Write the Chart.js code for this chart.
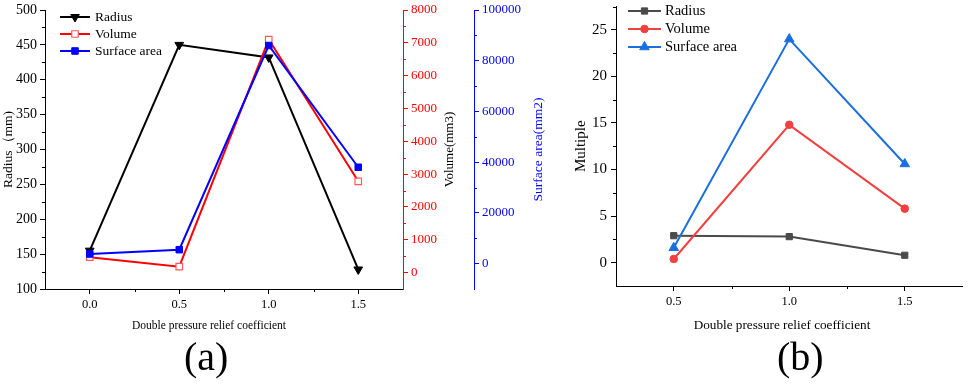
<!DOCTYPE html>
<html><head><meta charset="utf-8">
<script src="https://cdn.jsdelivr.net/npm/chart.js@4.4.1/dist/chart.umd.min.js"></script>
<style>
html,body{margin:0;padding:0;background:#fff;width:969px;height:386px;overflow:hidden;}
#ca{position:absolute;left:0;top:0;width:560px;height:340px;}
#cb{position:absolute;left:560px;top:0;width:409px;height:340px;}
.lab{position:absolute;font-family:"Liberation Serif","Times New Roman",serif;font-size:40px;color:#000;line-height:1;white-space:nowrap;}
</style></head><body>
<canvas id="ca" width="560" height="340"></canvas>
<canvas id="cb" width="409" height="340"></canvas>
<div class="lab" id="la" style="left:184px;top:337px"></div>
<div class="lab" id="lb" style="left:777px;top:337px"></div>
<script>
// ---------- data ----------
const categoriesA = [0.0, 0.5, 1.0, 1.5];
const radiusA  = [155, 450, 432, 128];
const volumeA  = [470, 180, 7100, 2780];
const surfaceA = [3800, 5500, 86000, 38000];

const categoriesB = [0.5, 1.0, 1.5];
const radiusB  = [2.9, 2.8, 0.8];
const volumeB  = [0.4, 14.8, 5.8];
const surfaceB = [1.6, 24.0, 10.6];

const seriesNames = ['Radius', 'Volume', 'Surface area'];
const xTicksA = [0.0, 0.5, 1.0, 1.5];
const xTicksB = [0.5, 1.0, 1.5];
const radiusTicks = [100, 150, 200, 250, 300, 350, 400, 450, 500];
const volumeTicks = [0, 1000, 2000, 3000, 4000, 5000, 6000, 7000, 8000];
const surfaceTicks = [0, 20000, 40000, 60000, 80000, 100000];
const multipleTicks = [0, 5, 10, 15, 20, 25];
const xTitle = 'Double pressure relief coefficient';
const radiusTitle = 'Radius（mm)';
const volumeTitle = 'Volume(mm3)';
const surfaceTitle = 'Surface area(mm2)';
const multipleTitle = 'Multiple';
const panelLabels = ['(a)', '(b)'];

document.getElementById('la').textContent = panelLabels[0];
document.getElementById('lb').textContent = panelLabels[1];

// ---------- helpers ----------
const SERIF = "'Liberation Serif','Times New Roman',serif";
const pts = (xs, ys) => xs.map((x, i) => ({x: x, y: ys[i]}));
const fixedTicks = vals => s => { s.ticks = vals.map(v => ({value: v})); };
const zeroPad = s => { s.paddingTop = 0; s.paddingBottom = 0; s.paddingLeft = 0; s.paddingRight = 0; };
const fixW = w => s => { s.width = w; zeroPad(s); };
const fixH = h => s => { s.height = h; zeroPad(s); };

function vAxis(o) {
  return {
    type: 'linear', position: o.position, min: o.min, max: o.max, weight: o.weight || 0,
    afterBuildTicks: fixedTicks(o.ticks),
    afterFit: fixW(o.width),
    grid: {drawOnChartArea: false, drawTicks: true, tickLength: 5, tickWidth: 1, tickColor: o.color},
    border: {display: true, color: o.color, width: 1},
    ticks: {font: {family: SERIF, size: o.fontSize}, color: o.color, padding: o.pad, autoSkip: false,
            callback: v => String(v)},
    title: o.title ? {display: true, text: o.title, color: '#000',
                      font: {family: SERIF, size: o.titleSize}, padding: {top: o.titlePad, bottom: 0}}
                   : {display: false}
  };
}
function hAxis(o) {
  return {
    type: 'linear', position: 'bottom', min: o.min, max: o.max,
    afterBuildTicks: fixedTicks(o.ticks),
    afterFit: fixH(o.height),
    grid: {drawOnChartArea: false, drawTicks: true, tickLength: 5, tickWidth: 1, tickColor: '#000'},
    border: {display: true, color: '#000', width: 1},
    ticks: {font: {family: SERIF, size: o.fontSize}, color: '#000', padding: o.pad, maxRotation: 0, autoSkip: false,
            callback: v => Number(v).toFixed(1)},
    title: {display: false}
  };
}

const extras = {
  id: 'extras',
  afterDraw(chart, args, opts) {
    const ctx = chart.ctx;
    ctx.save();
    // minor ticks
    (opts.minor || []).forEach(m => {
      const s = chart.scales[m.id];
      ctx.strokeStyle = m.color; ctx.lineWidth = 1;
      ctx.beginPath();
      for (let v = m.from; v <= m.to + 1e-9; v += m.step) {
        const p = Math.round(s.getPixelForValue(v)) + 0.5;
        if (s.isHorizontal()) { ctx.moveTo(p, s.top); ctx.lineTo(p, s.top + m.len); }
        else if (s.position === 'left') { ctx.moveTo(s.right, p); ctx.lineTo(s.right - m.len, p); }
        else { ctx.moveTo(s.left, p); ctx.lineTo(s.left + m.len, p); }
      }
      ctx.stroke();
    });
    // rotated titles for right axes (reading bottom-to-top)
    const ca = chart.chartArea;
    (opts.titles || []).forEach(t => {
      ctx.save();
      ctx.translate(t.x, (ca.top + ca.bottom) / 2);
      ctx.rotate(-Math.PI / 2);
      ctx.fillStyle = t.color;
      ctx.font = t.size + 'px ' + SERIF;
      ctx.textAlign = 'center'; ctx.textBaseline = 'middle';
      ctx.fillText(t.text, 0, 0);
      ctx.restore();
    });
    // horizontal axis title
    if (opts.xTitle) {
      const t = opts.xTitle;
      ctx.fillStyle = '#000';
      ctx.font = t.size + 'px ' + SERIF;
      ctx.textAlign = 'center'; ctx.textBaseline = 'middle';
      ctx.fillText(t.text, t.x, t.y);
    }
    // legend (line + marker + text)
    const L = opts.legend;
    if (L) {
      chart.data.datasets.forEach((ds, i) => {
        const y = L.y0 + i * L.dy;
        ctx.strokeStyle = ds.borderColor; ctx.lineWidth = ds.borderWidth;
        ctx.beginPath(); ctx.moveTo(L.x0, y); ctx.lineTo(L.x1, y); ctx.stroke();
        ctx.fillStyle = ds.pointBackgroundColor; ctx.strokeStyle = ds.pointBorderColor;
        ctx.lineWidth = ds.pointBorderWidth;
        Chart.helpers.drawPoint(ctx, {pointStyle: ds.pointStyle, rotation: ds.pointRotation || 0,
          radius: ds.pointRadius, borderWidth: ds.pointBorderWidth}, (L.x0 + L.x1) / 2, y);
        ctx.fillStyle = '#000'; ctx.font = L.size + 'px ' + SERIF;
        ctx.textAlign = 'left'; ctx.textBaseline = 'middle';
        ctx.fillText(ds.label, L.xt, y);
      });
    }
    ctx.restore();
  }
};

// ---------- chart (a) ----------
new Chart(document.getElementById('ca'), {
  type: 'line',
  plugins: [extras],
  data: {
    datasets: [
      {label: seriesNames[0], data: pts(categoriesA, radiusA), yAxisID: 'y', order: 3,
       borderColor: '#000000', borderWidth: 2, pointStyle: 'triangle', pointRotation: 180, pointRadius: 5,
       pointBackgroundColor: '#000000', pointBorderColor: '#000000', pointBorderWidth: 1},
      {label: seriesNames[1], data: pts(categoriesA, volumeA), yAxisID: 'y1', order: 2,
       borderColor: '#ff0000', borderWidth: 2, pointStyle: 'rect', pointRadius: 4.6,
       pointBackgroundColor: '#ffffff', pointBorderColor: '#ff5a5a', pointBorderWidth: 1.2},
      {label: seriesNames[2], data: pts(categoriesA, surfaceA), yAxisID: 'y2', order: 1,
       borderColor: '#0000ff', borderWidth: 2, pointStyle: 'rect', pointRadius: 4.6,
       pointBackgroundColor: '#0000ff', pointBorderColor: '#0000ff', pointBorderWidth: 1}
    ]
  },
  options: {
    responsive: false, animation: false, events: [],
    layout: {padding: {top: 10, left: 0, right: 0, bottom: 0}},
    elements: {line: {tension: 0}},
    plugins: {
      legend: {display: false}, tooltip: {enabled: false},
      extras: {
        minor: [
          {id: 'x', from: 0.25, to: 1.25, step: 0.5, len: 3, color: '#000'},
          {id: 'y', from: 125, to: 475, step: 50, len: 3, color: '#000'},
          {id: 'y1', from: 500, to: 7500, step: 1000, len: 3, color: '#ff0000'},
          {id: 'y2', from: 10000, to: 90000, step: 20000, len: 3, color: '#0000ff'}
        ],
        titles: [
          {text: volumeTitle, x: 450, color: '#000', size: 13},
          {text: surfaceTitle, x: 538, color: '#0000ff', size: 13.5}
        ],
        xTitle: {text: xTitle, x: 209, y: 326, size: 11.5},
        legend: {x0: 60, x1: 90, xt: 95, y0: 17, dy: 17, size: 13.5}
      }
    },
    scales: {
      x: hAxis({min: -0.25, max: 1.75, ticks: xTicksA, height: 51, fontSize: 12.5, pad: 3}),
      y: vAxis({position: 'left', min: 100, max: 500, ticks: radiusTicks, width: 45, color: '#000',
                fontSize: 14, pad: 3, title: radiusTitle, titleSize: 13.5, titlePad: 0}),
      y1: vAxis({position: 'right', weight: 0, min: -500, max: 8000, ticks: volumeTicks, width: 71, color: '#ff0000',
                 fontSize: 13, pad: 3}),
      y2: vAxis({position: 'right', weight: 1, min: -10000, max: 100000, ticks: surfaceTicks, width: 86, color: '#0000ff',
                 fontSize: 13, pad: 3})
    }
  }
});

// ---------- chart (b) ----------
new Chart(document.getElementById('cb'), {
  type: 'line',
  plugins: [extras],
  data: {
    datasets: [
      {label: seriesNames[0], data: pts(categoriesB, radiusB), order: 3,
       borderColor: '#4a4a4a', borderWidth: 2, pointStyle: 'rect', pointRadius: 4.4,
       pointBackgroundColor: '#4a4a4a', pointBorderColor: '#4a4a4a', pointBorderWidth: 1},
      {label: seriesNames[1], data: pts(categoriesB, volumeB), order: 2,
       borderColor: '#f14040', borderWidth: 2, pointStyle: 'circle', pointRadius: 3.8,
       pointBackgroundColor: '#f14040', pointBorderColor: '#f14040', pointBorderWidth: 1},
      {label: seriesNames[2], data: pts(categoriesB, surfaceB), order: 1,
       borderColor: '#1a6fdf', borderWidth: 2, pointStyle: 'triangle', pointRadius: 5.5,
       pointBackgroundColor: '#1a6fdf', pointBorderColor: '#1a6fdf', pointBorderWidth: 1}
    ]
  },
  options: {
    responsive: false, animation: false, events: [],
    layout: {padding: {top: 0, left: 0, right: 1, bottom: 0}},
    elements: {line: {tension: 0}},
    plugins: {
      legend: {display: false}, tooltip: {enabled: false},
      extras: {
        minor: [
          {id: 'x', from: 0.75, to: 1.25, step: 0.5, len: 3, color: '#000'},
          {id: 'y', from: 2.5, to: 27.5, step: 5, len: 3, color: '#000'}
        ],
        xTitle: {text: xTitle, x: 222, y: 326, size: 13.2},
        legend: {x0: 68, x1: 101, xt: 105, y0: 11, dy: 18, size: 14.5}
      }
    },
    scales: {
      x: hAxis({min: 0.25, max: 1.75, ticks: xTicksB, height: 54, fontSize: 12.5, pad: 3}),
      y: vAxis({position: 'left', min: -2.5, max: 27.5, ticks: multipleTicks, width: 56, color: '#000',
                fontSize: 15, pad: 4, title: multipleTitle, titleSize: 15, titlePad: 12})
    }
  }
});
</script>
</body></html>
